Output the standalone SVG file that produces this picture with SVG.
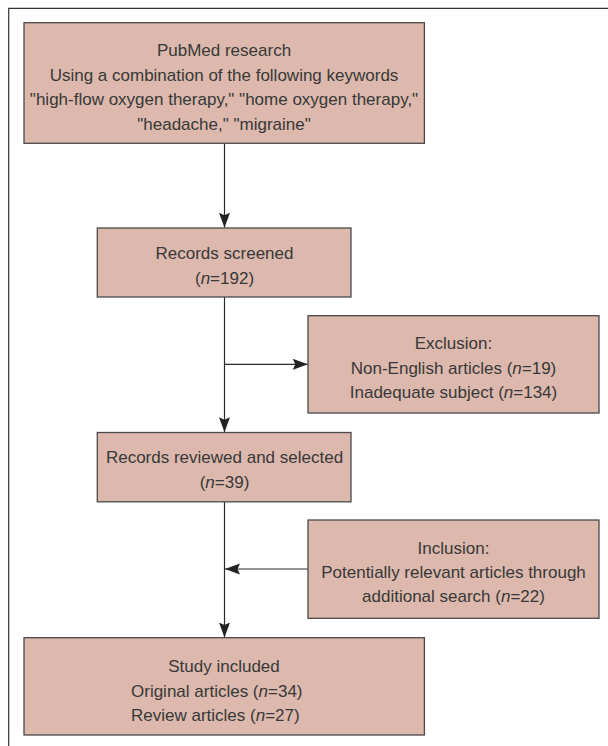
<svg xmlns="http://www.w3.org/2000/svg" width="608" height="746" viewBox="0 0 608 746">
<style>
.box{fill:#dcb8ad;stroke:#4a4a4a;stroke-width:1.3}
.t{font-family:"Liberation Sans",Arial,sans-serif;font-size:17px;fill:#383838;text-anchor:middle}
.ts{text-anchor:start}
.i{font-style:italic}
.c{stroke:#2a2a2a;stroke-width:1.2;fill:none}
.frame{stroke:#333;stroke-width:1.2;fill:none}
</style>
<defs>
<marker id="ah" markerUnits="userSpaceOnUse" markerWidth="16" markerHeight="12" refX="15" refY="5.5" orient="auto">
<path d="M0,0 L15,5.5 L0,11 L2.5,5.5 z" fill="#222"/>
</marker>
</defs>
<rect width="608" height="746" fill="#fff"/>
<path class="frame" d="M8.7,746 V8.3 H608"/>
<g id="connectors">
<line class="c" x1="224.5" y1="143.3" x2="224.5" y2="227.7" marker-end="url(#ah)"/>
<line class="c" x1="224.5" y1="297" x2="224.5" y2="432.3" marker-end="url(#ah)"/>
<line class="c" x1="224.5" y1="364.3" x2="307.8" y2="364.3" marker-end="url(#ah)"/>
<line class="c" x1="224.5" y1="502" x2="224.5" y2="637.5" marker-end="url(#ah)"/>
<line class="c" x1="308" y1="569" x2="225" y2="569" marker-end="url(#ah)"/>
</g>
<g id="pubmed">
<rect class="box" x="24" y="22.7" width="400.4" height="120.6"/>
<text class="t" x="224" y="56">PubMed research</text>
<text class="t" x="224" y="80.5">Using a combination of the following keywords</text>
<text class="t" x="224" y="105">"high-flow oxygen therapy," "home oxygen therapy,"</text>
<text class="t" x="224" y="129.5">"headache," "migraine"</text>
</g>
<g id="screened">
<rect class="box" x="97.3" y="228" width="253.7" height="69"/>
<text class="t" x="224.5" y="259">Records screened</text>
<text class="t" x="224.5" y="284">(<tspan class="i">n</tspan>=192)</text>
</g>
<g id="exclusion">
<rect class="box" x="308" y="315.7" width="291" height="97.3"/>
<text class="t" x="453.5" y="349.3">Exclusion:</text>
<text class="t" x="453.5" y="373.5">Non-English articles (<tspan class="i">n</tspan>=19)</text>
<text class="t" x="453.5" y="397.5">Inadequate subject (<tspan class="i">n</tspan>=134)</text>
</g>
<g id="reviewed">
<rect class="box" x="97.3" y="432.5" width="253.7" height="69.3"/>
<text class="t" x="224.5" y="463.3">Records reviewed and selected</text>
<text class="t" x="224.5" y="487.5">(<tspan class="i">n</tspan>=39)</text>
</g>
<g id="inclusion">
<rect class="box" x="308" y="520" width="291" height="98.3"/>
<text class="t" x="453.5" y="554">Inclusion:</text>
<text class="t" x="453.5" y="577.5">Potentially relevant articles through</text>
<text class="t" x="453.5" y="601.5">additional search (<tspan class="i">n</tspan>=22)</text>
</g>
<g id="included">
<rect class="box" x="24" y="637.7" width="400.4" height="97.3"/>
<text class="t" x="224" y="671.7">Study included</text>
<text class="t ts" x="131" y="696.5">Original articles (<tspan class="i">n</tspan>=34)</text>
<text class="t ts" x="131" y="720.5">Review articles (<tspan class="i">n</tspan>=27)</text>
</g>
</svg>
